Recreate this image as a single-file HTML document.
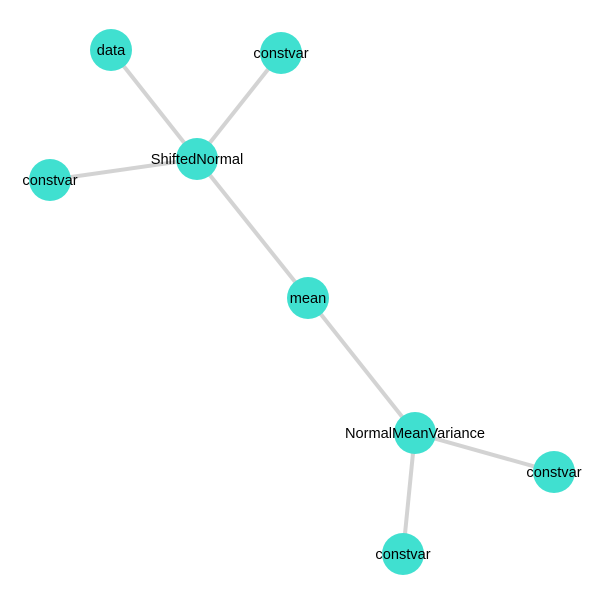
<!DOCTYPE html>
<html><head><style>body{margin:0;background:#fff}</style></head><body>
<svg width="605" height="605" xmlns="http://www.w3.org/2000/svg">
<g stroke="#d3d3d3" stroke-width="4">
<line x1="111" y1="50" x2="197" y2="159"/>
<line x1="281" y1="53" x2="197" y2="159"/>
<line x1="50" y1="180" x2="197" y2="159"/>
<line x1="197" y1="159" x2="308" y2="298"/>
<line x1="308" y1="298" x2="415" y2="433"/>
<line x1="415" y1="433" x2="554" y2="472"/>
<line x1="415" y1="433" x2="403" y2="554"/>
</g>
<g fill="#40e0d0">
<circle cx="111" cy="50" r="21"/>
<circle cx="281" cy="53" r="21"/>
<circle cx="197" cy="159" r="21"/>
<circle cx="50" cy="180" r="21"/>
<circle cx="308" cy="298" r="21"/>
<circle cx="415" cy="433" r="21"/>
<circle cx="554" cy="472" r="21"/>
<circle cx="403" cy="554" r="21"/>
</g>
<g font-family="Liberation Sans, sans-serif" font-size="14.6" fill="#000" text-anchor="middle" dominant-baseline="central" transform="translate(0,1)">
<text x="111" y="50">data</text>
<text x="281" y="53">constvar</text>
<text x="197" y="159">ShiftedNormal</text>
<text x="50" y="180">constvar</text>
<text x="308" y="298">mean</text>
<text x="415" y="433">NormalMeanVariance</text>
<text x="554" y="472">constvar</text>
<text x="403" y="554">constvar</text>
</g>
</svg>
</body></html>
